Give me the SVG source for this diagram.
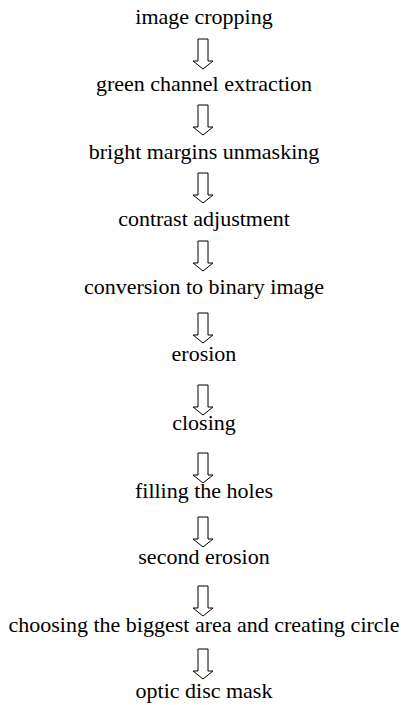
<svg xmlns="http://www.w3.org/2000/svg" width="401" height="705" viewBox="0 0 401 705">
  <defs>
    <style>
      .label { font-family: "Liberation Serif", "Times New Roman", serif; font-size: 22px; fill: #000; text-anchor: middle; }
      .arrow { fill: #fff; stroke: #000; stroke-width: 1; }
    </style>
    <!-- hollow block arrow pointing down, origin at top-centre -->
    <path id="down" class="arrow" d="M-5,0 H5 V22 H10 L0,30 L-10,22 H-5 Z"/>
  </defs>

  <!-- arrows drawn first so labels stay legible where they touch -->
  <g id="connectors">
    <use href="#down" x="203" y="39"/>
    <use href="#down" x="203" y="105"/>
    <use href="#down" x="203" y="173"/>
    <use href="#down" x="203" y="241"/>
    <use href="#down" x="203" y="313"/>
    <use href="#down" x="203" y="385"/>
    <use href="#down" x="203" y="453"/>
    <use href="#down" x="203" y="517"/>
    <use href="#down" x="203" y="586"/>
    <use href="#down" x="203" y="649"/>
  </g>

  <g id="steps">
    <g id="n1"><text class="label" x="204" y="24">image cropping</text></g>
    <g id="n2"><text class="label" x="204" y="91">green channel extraction</text></g>
    <g id="n3"><text class="label" x="204" y="159">bright margins unmasking</text></g>
    <g id="n4"><text class="label" x="204" y="226">contrast adjustment</text></g>
    <g id="n5"><text class="label" x="204" y="294">conversion to binary image</text></g>
    <g id="n6"><text class="label" x="204" y="361">erosion</text></g>
    <g id="n7"><text class="label" x="204" y="430">closing</text></g>
    <g id="n8"><text class="label" x="204" y="498">filling the holes</text></g>
    <g id="n9"><text class="label" x="204" y="564">second erosion</text></g>
    <g id="n10"><text class="label" x="204" y="632">choosing the biggest area and creating circle</text></g>
    <g id="n11"><text class="label" x="204" y="698">optic disc mask</text></g>
  </g>
</svg>
